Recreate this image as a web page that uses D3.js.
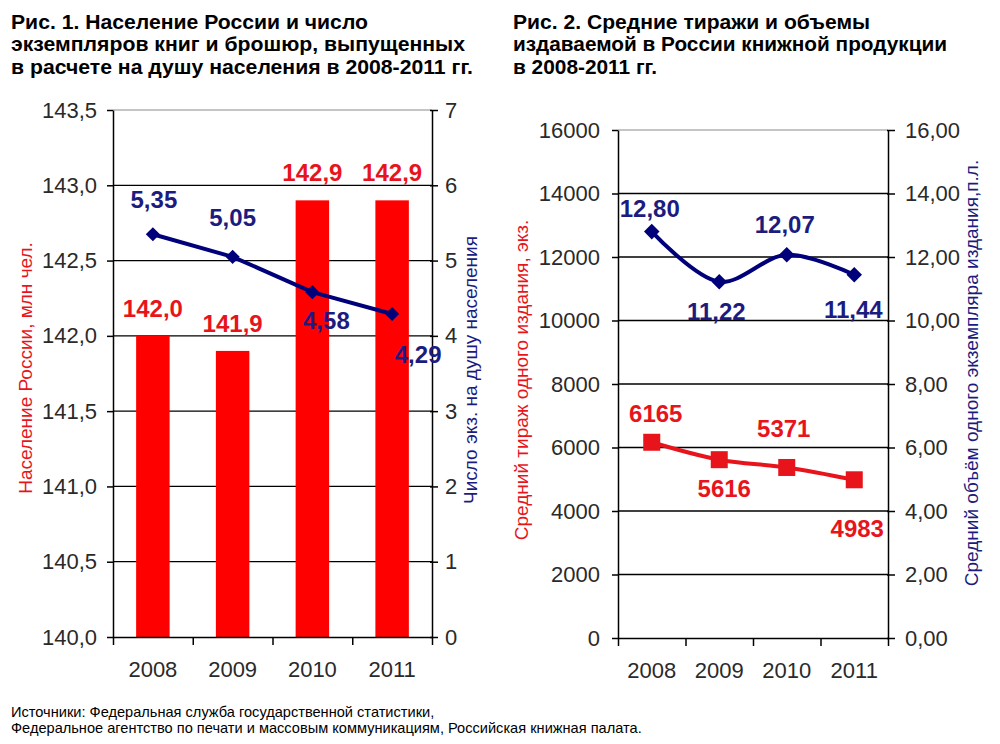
<!DOCTYPE html>
<html><head><meta charset="utf-8">
<script src="https://cdn.jsdelivr.net/npm/d3@7"></script>
<style>
html,body{margin:0;padding:0;background:#fff;}
svg{display:block;font-family:"Liberation Sans",Arial,sans-serif;}
</style></head>
<body>
<script>
// ---------- DATA ----------
const years = ["2008", "2009", "2010", "2011"];
const population = [142.0, 141.9, 142.9, 142.9];          // млн чел.
const booksPerCapita = [5.35, 5.05, 4.58, 4.29];          // экз. на душу
const avgPrintRun = [6165, 5616, 5371, 4983];             // экз.
const avgVolume = [12.80, 11.22, 12.07, 11.44];           // п.л.
const popTicks = [140.0, 140.5, 141.0, 141.5, 142.0, 142.5, 143.0, 143.5];
const perCapitaTicks = [0, 1, 2, 3, 4, 5, 6, 7];
const printRunTicks = [0, 2000, 4000, 6000, 8000, 10000, 12000, 14000, 16000];
const volumeTicks = [0, 2, 4, 6, 8, 10, 12, 14, 16];
const title1 = ["Рис. 1. Население России и число", "экземпляров книг и брошюр, выпущенных", "в расчете на душу населения в 2008-2011 гг."];
const title2 = ["Рис. 2. Средние тиражи и объемы", "издаваемой в России книжной продукции", "в 2008-2011 гг."];
const footnote = ["Источники: Федеральная служба государственной статистики,", "Федеральное агентство по печати и массовым коммуникациям, Российская книжная палата."];

// label placement offsets (dx, dy from the mark)
const offBooks = [[1,-26],[0,-31],[14,37],[26,49]];
const offRun = [[4,-20],[5,37],[-3,-30],[3,57]];
const offVol = [[-2,-15],[-3,38],[-2,-22],[-1,43]];

const RED = "#ff0000", RED_T = "#e8141c", NAVY = "#00007a", NAVY_T = "#1c1c80", TICK = "#2a2a2a";
const commaFmt = (d, n) => d.toFixed(n).replace(".", ",");

const svg = d3.select("body").append("svg").attr("width", 1000).attr("height", 744);
svg.append("rect").attr("width", 1000).attr("height", 744).attr("fill", "#fff");

function titleBlock(lines, x, widths) {
  const g = svg.append("g");
  lines.forEach((t, i) => {
    g.append("text").attr("x", x).attr("y", 29 + i * 22.3)
      .attr("font-size", 19.5).attr("font-weight", "bold").attr("fill", "#000")
      .attr("textLength", widths[i]).attr("lengthAdjust", "spacingAndGlyphs")
      .text(t);
  });
}
titleBlock(title1, 11, [357, 454, 462]);
titleBlock(title2, 513, [357, 434, 144]);

function styleAxis(g, color) {
  g.selectAll("path.domain").attr("stroke", "#000").attr("stroke-width", 1.5);
  g.selectAll(".tick line").attr("stroke", "#000").attr("stroke-width", 1.5);
  g.selectAll(".tick text").attr("font-size", 22).attr("fill", color || TICK)
    .attr("font-family", "Liberation Sans, Arial, sans-serif");
}

function vTitle(text, x, y, color) {
  svg.append("text").attr("transform", `translate(${x},${y}) rotate(-90)`)
    .attr("text-anchor", "middle").attr("dy", "0.36em")
    .attr("font-size", 19).attr("fill", color).text(text);
}

function frame(xL, xR, yS, ticks, topVal) {
  const g = svg.append("g");
  g.selectAll("line.grid").data(ticks.filter(t => t !== ticks[0]))
    .join("line")
    .attr("x1", xL).attr("x2", xR)
    .attr("y1", d => yS(d)).attr("y2", d => yS(d))
    .attr("stroke", d => d === topVal ? "#8a8a8a" : "#000")
    .attr("stroke-width", d => d === topVal ? 1 : 1.3);
}

function xAxes(xBand, xL, xR, yBase) {
  const xb = d3.scaleLinear().domain([0, years.length]).range([xL, xR]);
  const gt = svg.append("g").attr("transform", `translate(0,${yBase})`)
    .call(d3.axisBottom(xb).tickValues(d3.range(years.length + 1)).tickFormat("").tickSize(8).tickSizeOuter(0));
  styleAxis(gt);
  const gl = svg.append("g").attr("transform", `translate(0,${yBase})`)
    .call(d3.axisBottom(xBand).tickSize(0).tickPadding(24));
  gl.select("path.domain").remove();
  styleAxis(gl);
}

// ================= CHART 1 =================
{
  const xL = 113, xR = 432, yT = 110, yB = 637;
  const x = d3.scaleBand().domain(years).range([xL, xR]).paddingInner(0.58).paddingOuter(0.29);
  const yL = d3.scaleLinear().domain([140, 143.5]).range([yB, yT]);
  const yR = d3.scaleLinear().domain([0, 7]).range([yB, yT]);

  frame(xL, xR, yL, popTicks, 143.5);

  svg.append("g").selectAll("rect").data(years).join("rect")
    .attr("x", d => x(d)).attr("width", x.bandwidth())
    .attr("y", (d, i) => yL(population[i])).attr("height", (d, i) => yB - yL(population[i]))
    .attr("fill", RED);

  const gl = svg.append("g").attr("transform", `translate(${xL},0)`)
    .call(d3.axisLeft(yL).tickValues(popTicks).tickFormat(d => commaFmt(d, 1)).tickSize(6).tickPadding(10).tickSizeOuter(0));
  styleAxis(gl);
  const gr = svg.append("g").attr("transform", `translate(${xR},0)`)
    .call(d3.axisRight(yR).tickValues(perCapitaTicks).tickFormat(d => String(d)).tickSize(6).tickPadding(7).tickSizeOuter(0));
  styleAxis(gr);
  gr.selectAll(".tick line").attr("x1", -2);
  xAxes(x, xL, xR, yB);

  const cx = d => x(d) + x.bandwidth() / 2;
  const line = d3.line().x((d, i) => cx(years[i])).y(d => yR(d));
  svg.append("path").datum(booksPerCapita).attr("d", line)
    .attr("fill", "none").attr("stroke", NAVY).attr("stroke-width", 4).attr("stroke-linejoin", "round");
  svg.append("g").selectAll("rect").data(booksPerCapita).join("rect")
    .attr("x", -5).attr("y", -5).attr("width", 10).attr("height", 10)
    .attr("transform", (d, i) => `translate(${cx(years[i])},${yR(d)}) rotate(45)`)
    .attr("fill", NAVY);

  svg.append("g").selectAll("text").data(population).join("text")
    .attr("x", (d, i) => cx(years[i])).attr("y", d => yL(d) - 19)
    .attr("text-anchor", "middle").attr("font-size", 24).attr("font-weight", "bold")
    .attr("fill", RED_T).text(d => commaFmt(d, 1));
  svg.append("g").selectAll("text").data(booksPerCapita).join("text")
    .attr("x", (d, i) => cx(years[i]) + offBooks[i][0]).attr("y", (d, i) => yR(d) + offBooks[i][1])
    .attr("text-anchor", "middle").attr("font-size", 24).attr("font-weight", "bold")
    .attr("fill", NAVY_T).text(d => commaFmt(d, 2));

  vTitle("Население России, млн чел.", 25, 368, RED_T);
  vTitle("Число экз. на душу населения", 470, 370, NAVY_T);
}

// ================= CHART 2 =================
{
  const xL = 618, xR = 888, yT = 130, yB = 638;
  const x = d3.scaleBand().domain(years).range([xL, xR]).paddingInner(0.5).paddingOuter(0.25);
  const yL = d3.scaleLinear().domain([0, 16000]).range([yB, yT]);
  const yR = d3.scaleLinear().domain([0, 16]).range([yB, yT]);

  frame(xL, xR, yL, printRunTicks, 16000);

  const gl = svg.append("g").attr("transform", `translate(${xL},0)`)
    .call(d3.axisLeft(yL).tickValues(printRunTicks).tickFormat(d => String(d)).tickSize(6).tickPadding(12).tickSizeOuter(0));
  styleAxis(gl);
  const gr = svg.append("g").attr("transform", `translate(${xR},0)`)
    .call(d3.axisRight(yR).tickValues(volumeTicks).tickFormat(d => commaFmt(d, 2)).tickSize(7).tickPadding(10).tickSizeOuter(0));
  styleAxis(gr);
  gr.selectAll(".tick line").attr("x1", -1);
  xAxes(x, xL, xR, yB);

  const cx = d => x(d) + x.bandwidth() / 2;
  const curve = d3.curveCatmullRom.alpha(0.5);

  // red: print run
  svg.append("path").datum(avgPrintRun)
    .attr("d", d3.line().curve(curve).x((d, i) => cx(years[i])).y(d => yL(d)))
    .attr("fill", "none").attr("stroke", RED_T).attr("stroke-width", 4);
  svg.append("g").selectAll("rect").data(avgPrintRun).join("rect")
    .attr("x", (d, i) => cx(years[i]) - 8.5).attr("y", d => yL(d) - 8.5)
    .attr("width", 17).attr("height", 17).attr("fill", RED_T);

  // blue: volume
  svg.append("path").datum(avgVolume)
    .attr("d", d3.line().curve(curve).x((d, i) => cx(years[i])).y(d => yR(d)))
    .attr("fill", "none").attr("stroke", NAVY).attr("stroke-width", 4);
  svg.append("g").selectAll("rect").data(avgVolume).join("rect")
    .attr("x", -5.5).attr("y", -5.5).attr("width", 11).attr("height", 11)
    .attr("transform", (d, i) => `translate(${cx(years[i])},${yR(d)}) rotate(45)`)
    .attr("fill", NAVY);

  svg.append("g").selectAll("text").data(avgPrintRun).join("text")
    .attr("x", (d, i) => cx(years[i]) + offRun[i][0]).attr("y", (d, i) => yL(d) + offRun[i][1])
    .attr("text-anchor", "middle").attr("font-size", 24).attr("font-weight", "bold")
    .attr("fill", RED_T).text(d => String(d));
  svg.append("g").selectAll("text").data(avgVolume).join("text")
    .attr("x", (d, i) => cx(years[i]) + offVol[i][0]).attr("y", (d, i) => yR(d) + offVol[i][1])
    .attr("text-anchor", "middle").attr("font-size", 24).attr("font-weight", "bold")
    .attr("fill", NAVY_T).text(d => commaFmt(d, 2));

  vTitle("Средний тираж одного издания, экз.", 521, 380, RED_T);
  vTitle("Средний объём одного экземпляра издания,п.л.", 971, 373, NAVY_T);
}

// footnote
footnote.forEach((t, i) => {
  svg.append("text").attr("x", 11).attr("y", 717 + i * 16)
    .attr("font-size", 14.6).attr("fill", "#000").text(t);
});
</script>
</body></html>
